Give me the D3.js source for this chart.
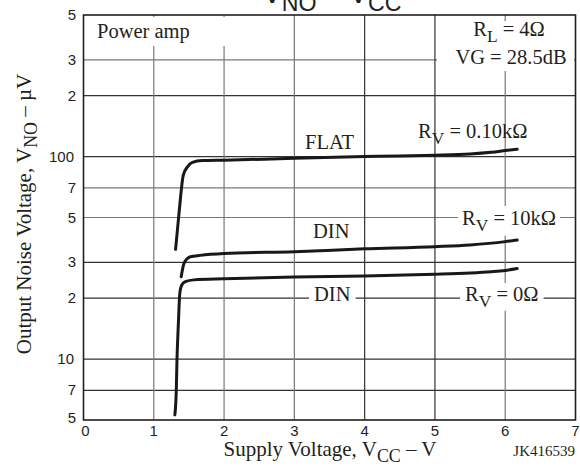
<!DOCTYPE html>
<html lang="en">
<head>
  <meta charset="UTF-8">
  <title>VNO - VCC</title>
  <style>
    body { margin: 0; background: #fff; }
    svg { display: block; }
    .serif { font-family: "Liberation Serif", "Times New Roman", serif; fill: #231f20; }
    .sans { font-family: "Liberation Sans", Arial, sans-serif; fill: #231f20; }
  </style>
</head>
<body>
  <svg width="580" height="474"></svg>
  <script src="https://cdnjs.cloudflare.com/ajax/libs/d3/7.8.5/d3.min.js"></script>
  <script>
    // axis ticks
    const xTicks = [0, 1, 2, 3, 4, 5, 6, 7];
    const yTicks = [5, 7, 10, 20, 30, 50, 70, 100, 200, 300, 500];
    const yTickLabels = ["5", "7", "10", "2", "3", "5", "7", "100", "2", "3", "5"];

    // curves (VCC in V, VNO in uV)
    const flatVcc = [1.31, 1.36, 1.42, 1.48, 1.55, 1.69, 2, 3, 4, 4.5, 5, 5.5, 5.8, 6, 6.17];
    const flatVno = [34.8, 53, 81, 89, 93.6, 95.5, 96, 98, 100, 100.6, 101.5, 103, 105, 107, 108.7];

    const din10kVcc = [1.39, 1.43, 1.52, 1.66, 2, 3, 4, 5, 5.5, 6, 6.17];
    const din10kVno = [25.5, 29.7, 32, 32.5, 33.2, 33.9, 35, 35.9, 36.6, 38, 38.7];

    const din0Vcc = [1.30, 1.32, 1.33, 1.35, 1.37, 1.40, 1.45, 1.57, 2, 3, 4, 5, 5.5, 5.8, 6, 6.17];
    const din0Vno = [5.3, 7, 9.9, 15, 21.1, 23.3, 24.1, 24.6, 24.9, 25.4, 25.7, 26.2, 26.6, 27, 27.4, 28];

    const svg = d3.select("svg");
    const pL = 83.5, pR = 575.5, pT = 15, pB = 420;

    const x = d3.scaleLinear().domain([0, 7]).range([pL, pR]);
    const y = d3.scaleLog().domain([5, 500]).range([pB, pT]);

    // grid - some lines came out darker in the original print
    const darkY = [7, 10, 20, 30, 100, 200];
    const darkX = [4, 5];
    const grid = svg.append("g");
    grid.selectAll("line.h")
      .data(yTicks.slice(1, -1))
      .enter().append("line")
      .attr("x1", pL).attr("x2", pR)
      .attr("y1", d => y(d)).attr("y2", d => y(d))
      .attr("stroke", d => darkY.includes(d) ? "#333" : "#777")
      .attr("stroke-width", 1.2);
    grid.selectAll("line.v")
      .data(xTicks.slice(1, -1))
      .enter().append("line")
      .attr("y1", pT).attr("y2", pB)
      .attr("x1", d => x(d)).attr("x2", d => x(d))
      .attr("stroke", d => darkX.includes(d) ? "#333" : "#777")
      .attr("stroke-width", 1.2);

    // text with subscripts: parts = [[text, isSub], ...]
    function rich(g, px, py, parts, size, cls, anchor, subScale) {
      const k = subScale || 0.76;
      const t = g.append("text")
        .attr("class", cls)
        .attr("x", px).attr("y", py)
        .attr("font-size", size)
        .attr("text-anchor", anchor || "start");
      let down = false;
      parts.forEach(([s, sub]) => {
        const sp = t.append("tspan").text(s);
        if (sub && !down) { sp.attr("dy", size * 0.28).attr("font-size", size * k); down = true; }
        else if (sub) { sp.attr("font-size", size * k); }
        else if (down) { sp.attr("dy", -size * 0.28); down = false; }
      });
      return t;
    }

    // put a white box behind a label
    function whiteBox(g, t, padX, padY, extraRight) {
      const b = t.node().getBBox();
      g.insert("rect", "text")
        .attr("x", b.x - padX).attr("y", b.y - padY)
        .attr("width", b.width + padX * 2 + (extraRight || 0))
        .attr("height", b.height + padY * 2)
        .attr("fill", "#fff");
    }

    const notes = svg.append("g");

    const pa = notes.append("g");
    const paT = rich(pa, 97, 38, [["Power amp", false]], 20.5, "serif");
    whiteBox(pa, paT, 10, 3, 30);

    const rl = notes.append("g");
    rich(rl, 509, 36, [["R", false], ["L", true], [" = 4\u03A9", false]], 20.5, "serif", "middle", 0.85);
    rich(rl, 511, 64, [["VG = 28.5dB", false]], 20.5, "serif", "middle");
    rl.insert("rect", "text")
      .attr("x", 437).attr("y", 21).attr("width", 137).attr("height", 50)
      .attr("fill", "#fff");

    const l10 = notes.append("g");
    whiteBox(l10, rich(l10, 462, 225, [["R", false], ["V", true], [" = 10k\u03A9", false]], 20.5, "serif", "start", 0.85), 4, 1);

    const lDin2 = notes.append("g");
    whiteBox(lDin2, rich(lDin2, 314, 301, [["DIN", false]], 20.5, "serif"), 5, 0);

    const l0 = notes.append("g");
    whiteBox(l0, rich(l0, 465, 301, [["R", false], ["V", true], [" = 0\u03A9", false]], 20.5, "serif", "start", 0.85), 5, 0);

    rich(notes, 305, 149, [["FLAT", false]], 20.5, "serif");
    rich(notes, 313, 238, [["DIN", false]], 20.5, "serif");
    rich(notes, 418, 138, [["R", false], ["V", true], [" = 0.10k\u03A9", false]], 20.5, "serif", "start", 0.85);

    // frame
    svg.append("rect")
      .attr("x", pL).attr("y", pT)
      .attr("width", pR - pL).attr("height", pB - pT)
      .attr("fill", "none").attr("stroke", "#231f20").attr("stroke-width", 1.6);

    // curves
    const line = d3.line()
      .x(d => x(d[0])).y(d => y(d[1]))
      .curve(d3.curveMonotoneX);
    const series = [
      d3.zip(flatVcc, flatVno),
      d3.zip(din10kVcc, din10kVno),
      d3.zip(din0Vcc, din0Vno)
    ];
    svg.append("g").selectAll("path")
      .data(series)
      .enter().append("path")
      .attr("d", line)
      .attr("fill", "none")
      .attr("stroke", "#1a1718")
      .attr("stroke-width", 3)
      .attr("stroke-linecap", "round")
      .attr("stroke-linejoin", "round");

    // tick labels
    svg.append("g").selectAll("text")
      .data(xTicks)
      .enter().append("text")
      .attr("class", "sans")
      .attr("font-size", 15)
      .attr("text-anchor", "middle")
      .attr("x", d => x(d) + (d === 0 ? 2 : 0))
      .attr("y", 436)
      .text(d => d);

    svg.append("g").selectAll("text")
      .data(yTicks)
      .enter().append("text")
      .attr("class", "sans")
      .attr("font-size", 15)
      .attr("text-anchor", "end")
      .attr("x", (d, i) => yTickLabels[i].length > 1 ? 74 : 76)
      .attr("y", (d, i) => y(d) + 5 - (i === 0 ? 2 : 0))
      .text((d, i) => yTickLabels[i]);

    // axis titles
    rich(svg, 330, 456, [["Supply Voltage, V", false], ["CC", true], [" \u2013 V", false]], 21, "serif", "middle", 0.85);
    rich(svg, 575, 456, [["JK416539", false]], 15, "serif", "end");

    const yl = svg.append("g").attr("transform", "translate(31,214) rotate(-90)");
    rich(yl, 0, 0, [["Output Noise Voltage, V", false], ["NO", true], [" \u2013 \u00B5V", false]], 21, "serif", "middle", 0.85);

    // title, clipped by the page top in the original
    rich(svg, 332, 3, [["V", false], ["NO", true], [" \u2013 V", false], ["CC", true]], 29, "sans", "middle", 0.8);
  </script>
</body>
</html>
